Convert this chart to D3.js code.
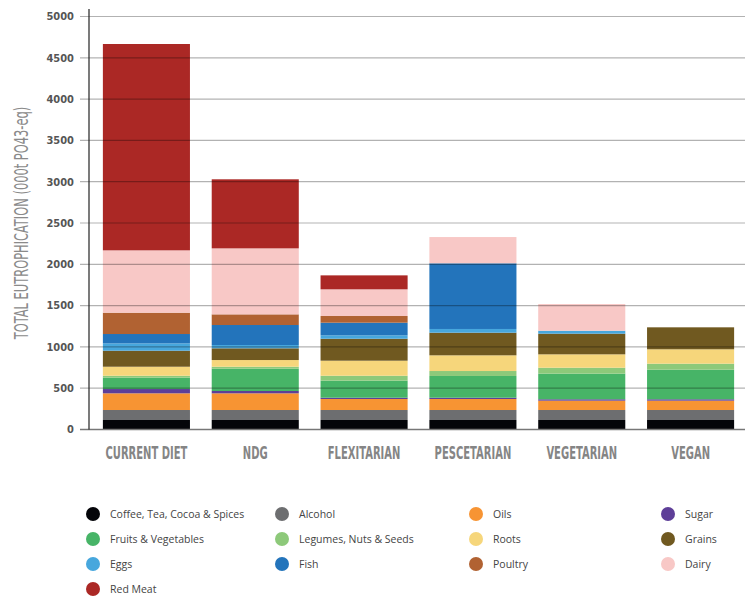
<!DOCTYPE html>
<html>
<head>
<meta charset="utf-8">
<script src="https://cdn.jsdelivr.net/npm/d3@7"></script>
<style>
  body { margin: 0; background: #fff; }
  .cond { font-family: "DejaVu Sans Condensed", "DejaVu Sans", sans-serif; font-stretch: condensed; }
</style>
</head>
<body>
<div id="chart"></div>
<script>
// diets along the x axis
var diets = ["CURRENT DIET", "NDG", "FLEXITARIAN", "PESCETARIAN", "VEGETARIAN", "VEGAN"];

// food groups, bottom to top of each stack
var groups = ["Coffee, Tea, Cocoa & Spices", "Alcohol", "Oils", "Sugar", "Fruits & Vegetables",
  "Legumes, Nuts & Seeds", "Roots", "Grains", "Eggs", "Fish", "Poultry", "Dairy", "Red Meat"];
var groupColors = ["#040509", "#6d6e70", "#f79433", "#5e3f98", "#47b467",
  "#8dc97a", "#f6d67b", "#705920", "#47a7dd", "#2374bb", "#b16232", "#f8c8c6", "#ab2825"];

// values per diet (000t PO43-eq)
var coffee   = [115, 115, 115, 115, 115, 115];
var alcohol  = [121, 121, 121, 121, 121, 121];
var oils     = [202, 202, 133, 133, 113, 113];
var sugar    = [52, 28, 16, 16, 17, 17];
var fruitVeg = [137, 270, 206, 263, 310, 358];
var legumes  = [24, 24, 60, 60, 72, 73];
var roots    = [109, 81, 182, 190, 162, 174];
var grains   = [194, 142, 266, 274, 250, 266];
var eggs     = [89, 40, 41, 45, 36, 0];
var fish     = [113, 242, 153, 795, 0, 0];
var poultry  = [258, 129, 81, 0, 0, 0];
var dairy    = [755, 799, 323, 318, 323, 0];
var redMeat  = [2498, 836, 169, 0, 0, 0];

var yTicks = [0, 500, 1000, 1500, 2000, 2500, 3000, 3500, 4000, 4500, 5000];
var yLabel = "TOTAL EUTROPHICATION (000t PO43-eq)";

var series = [coffee, alcohol, oils, sugar, fruitVeg, legumes, roots, grains, eggs, fish, poultry, dairy, redMeat];

// build rows for d3.stack
var rows = diets.map(function(d, i) {
  var r = { diet: d };
  groups.forEach(function(g, j) { r[g] = series[j][i]; });
  return r;
});

var width = 751, height = 597;
var svg = d3.select("#chart").append("svg")
  .attr("width", width)
  .attr("height", height);

var x = d3.scaleBand()
  .domain(diets)
  .range([92, 745])
  .paddingInner(0.2)
  .paddingOuter(0.1);

var y = d3.scaleLinear()
  .domain([0, 5000])
  .range([429.5, 16.5]);

var color = d3.scaleOrdinal().domain(groups).range(groupColors);

var stacked = d3.stack().keys(groups)(rows);

// bars
svg.append("g")
  .selectAll("g")
  .data(stacked)
  .join("g")
    .attr("fill", function(d) { return color(d.key); })
  .selectAll("rect")
  .data(function(d) { return d; })
  .join("rect")
    .attr("x", function(d) { return x(d.data.diet); })
    .attr("y", function(d) { return y(d[1]); })
    .attr("width", x.bandwidth())
    .attr("height", function(d) { return y(d[0]) - y(d[1]); });

// grid lines, drawn over the bars
svg.append("g")
  .selectAll("line")
  .data(yTicks.slice(1))
  .join("line")
    .attr("x1", 80)
    .attr("x2", 745)
    .attr("y1", function(d) { return y(d); })
    .attr("y2", function(d) { return y(d); })
    .attr("stroke", "#000")
    .attr("stroke-opacity", 0.3)
    .attr("stroke-width", 1.2);

// baseline and vertical axis
svg.append("line")
  .attr("x1", 80).attr("x2", 745)
  .attr("y1", y(0)).attr("y2", y(0))
  .attr("stroke", "#777").attr("stroke-width", 1.5);
svg.append("line")
  .attr("x1", 89).attr("x2", 89)
  .attr("y1", 9).attr("y2", y(0))
  .attr("stroke", "#222").attr("stroke-width", 1.2);

// y tick labels
svg.append("g")
  .selectAll("text")
  .data(yTicks)
  .join("text")
    .attr("class", "cond")
    .attr("x", 74)
    .attr("y", function(d) { return y(d); })
    .attr("dy", "0.35em")
    .attr("text-anchor", "end")
    .attr("font-size", 11)
    .attr("font-weight", "bold")
    .attr("fill", "#555")
    .text(function(d) { return d; });

// y axis title, squeezed to look like a narrow display face
svg.append("text")
  .attr("class", "cond")
  .attr("transform", "translate(28,223) rotate(-90) scale(0.67,1)")
  .attr("text-anchor", "middle")
  .attr("font-size", 19)
  .attr("fill", "#8a8a8a")
  .text(yLabel);

// diet labels
svg.append("g")
  .selectAll("text")
  .data(diets)
  .join("text")
    .attr("class", "cond")
    .attr("transform", function(d) {
      return "translate(" + (x(d) + x.bandwidth() / 2) + ",459) scale(0.6,1)";
    })
    .attr("text-anchor", "middle")
    .attr("font-size", 18.5)
    .attr("font-weight", "bold")
    .attr("fill", "#858585")
    .text(function(d) { return d; });

// legend, four columns
var legX = [93, 282, 476, 668];
var legend = svg.append("g")
  .selectAll("g")
  .data(groups)
  .join("g")
    .attr("transform", function(d, i) {
      return "translate(" + legX[i % 4] + "," + (514 + Math.floor(i / 4) * 25) + ")";
    });
legend.append("circle")
  .attr("r", 7)
  .attr("fill", function(d) { return color(d); });
legend.append("text")
  .attr("x", 17)
  .attr("dy", "0.35em")
  .attr("font-family", "'Open Sans', sans-serif")
  .attr("font-size", 10.5)
  .attr("fill", "#444")
  .text(function(d) { return d; });
</script>
</body>
</html>
